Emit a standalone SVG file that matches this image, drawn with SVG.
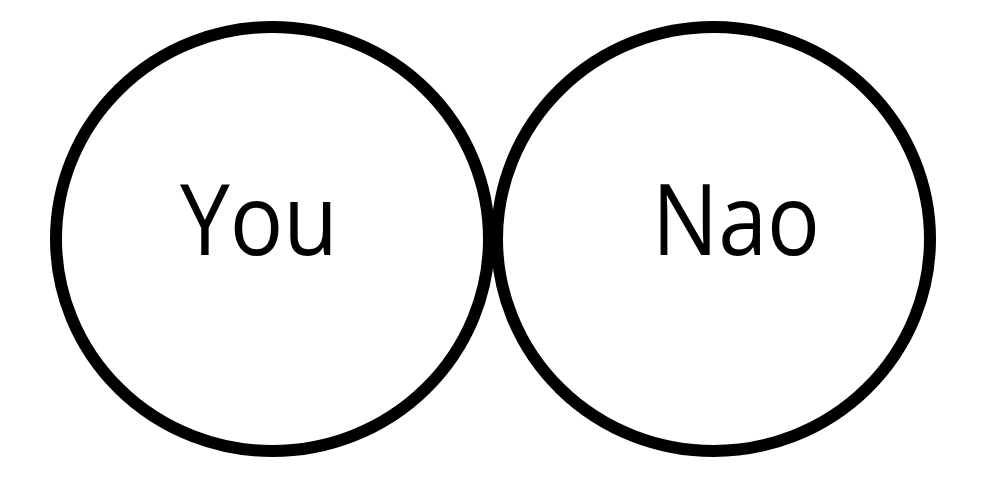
<svg xmlns="http://www.w3.org/2000/svg" width="990" height="481" viewBox="0 0 990 481">
<style>
.c{fill:none;stroke:#000;stroke-width:12}
.t{font-family:"Open Sans","Noto Sans",sans-serif;font-size:98px;fill:#000}
</style>
<rect width="990" height="481" fill="#fff"/>
<g id="you">
<ellipse class="c" cx="272.5" cy="239" rx="216.5" ry="212"/>
<text class="t" x="180" y="255" textLength="158" lengthAdjust="spacingAndGlyphs">You</text>
</g>
<g id="nao">
<ellipse class="c" cx="713.5" cy="239" rx="216.5" ry="212"/>
<text class="t" x="652" y="255" textLength="168" lengthAdjust="spacingAndGlyphs">Nao</text>
</g>
<g id="connectors"/>
</svg>
